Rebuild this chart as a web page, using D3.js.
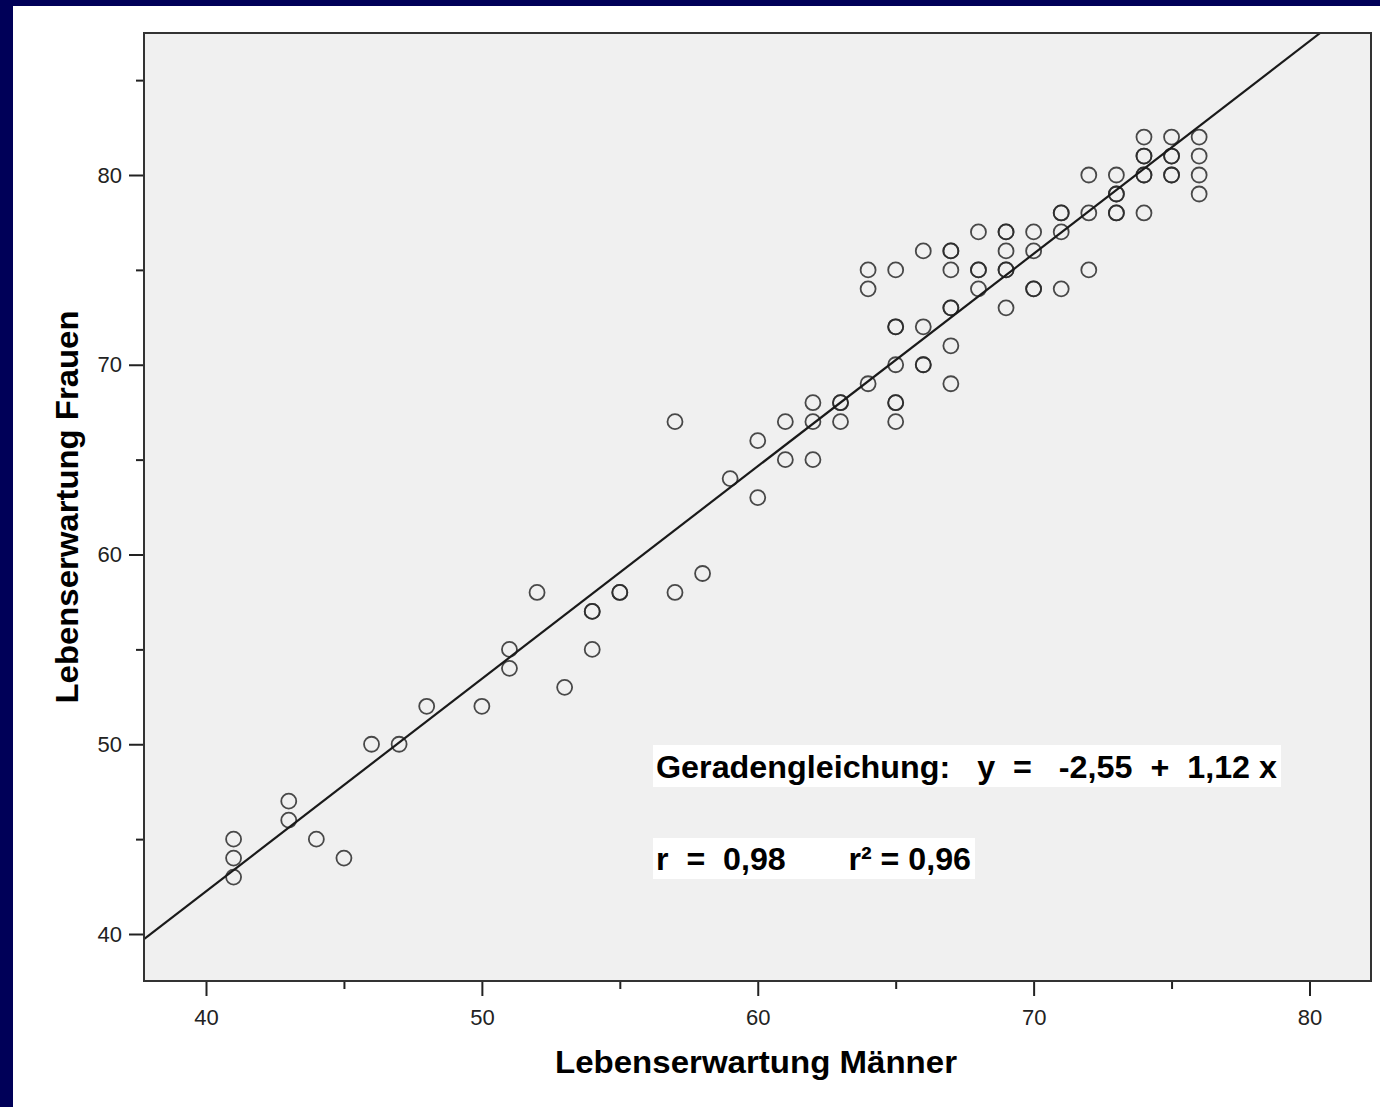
<!DOCTYPE html>
<html>
<head>
<meta charset="utf-8">
<script src="https://cdn.jsdelivr.net/npm/d3@7"></script>
<style>
  body { margin: 0; background: #000058; }
  svg { display: block; }
</style>
</head>
<body>
<div id="chart"></div>
<script>
// Lebenserwartung Männer (x) vs. Frauen (y)
const men = [41, 41, 41, 43, 43, 44, 45, 46, 47, 48, 50, 51, 51, 52, 53, 54, 54, 54, 55, 55,
  57, 57, 58, 59, 60, 60, 61, 61, 62, 62, 62, 63, 63, 63,
  64, 64, 64, 65, 65, 65, 65, 65, 65, 65, 66, 66, 66, 66,
  67, 67, 67, 67, 67, 67, 67, 68, 68, 68, 68, 69, 69, 69, 69, 69, 69,
  70, 70, 70, 70, 71, 71, 71, 71, 72, 72, 72, 73, 73, 73, 73, 73,
  74, 74, 74, 74, 74, 74, 75, 75, 75, 75, 75, 76, 76, 76, 76];
const women = [45, 44, 43, 47, 46, 45, 44, 50, 50, 52, 52, 55, 54, 58, 53, 57, 57, 55, 58, 58,
  67, 58, 59, 64, 66, 63, 67, 65, 68, 67, 65, 68, 68, 67,
  75, 74, 69, 75, 72, 72, 70, 68, 68, 67, 76, 72, 70, 70,
  76, 76, 75, 73, 73, 71, 69, 77, 75, 75, 74, 77, 77, 76, 75, 75, 73,
  77, 76, 74, 74, 78, 78, 77, 74, 80, 78, 75, 80, 79, 79, 78, 78,
  82, 81, 81, 80, 80, 78, 82, 81, 81, 80, 80, 82, 81, 80, 79];

const xTicks = [40, 50, 60, 70, 80];
const xMinor = [45, 55, 65, 75];
const yTicks = [40, 50, 60, 70, 80];
const yMinor = [45, 55, 65, 75, 85];

// regression line y = a + b x
const intercept = -2.55;
const slope = 1.12;
const eqText = "Geradengleichung:   y  =   -2,55  +  1,12 x";
const rText = "r  =  0,98       r\u00B2 = 0,96";

const W = 1380, H = 1107;
const plot = { left: 144, top: 33, right: 1371, bottom: 981 };

const svg = d3.select("#chart").append("svg")
    .attr("width", W)
    .attr("height", H);

// navy frame + white panel
svg.append("rect").attr("width", W).attr("height", H).attr("fill", "#000058");
svg.append("rect").attr("x", 13).attr("y", 6).attr("width", W - 13).attr("height", H - 6).attr("fill", "#ffffff");

// scales: 40 -> 206, 80 -> 1309.5 ; 80 -> 175, 40 -> 934
const pxX = (1309.5 - 206) / 40;
const pxY = (934 - 175) / 40;
const x = d3.scaleLinear()
    .domain([40 - (206 - plot.left) / pxX, 80 + (plot.right - 1309.5) / pxX])
    .range([plot.left, plot.right]);
const y = d3.scaleLinear()
    .domain([40 - (plot.bottom - 934) / pxY, 80 + (175 - plot.top) / pxY])
    .range([plot.bottom, plot.top]);

// plot background
svg.append("rect")
    .attr("x", plot.left).attr("y", plot.top)
    .attr("width", plot.right - plot.left).attr("height", plot.bottom - plot.top)
    .attr("fill", "#f0f0f0");

svg.append("clipPath").attr("id", "clip")
  .append("rect")
    .attr("x", plot.left).attr("y", plot.top)
    .attr("width", plot.right - plot.left).attr("height", plot.bottom - plot.top);

const g = svg.append("g").attr("clip-path", "url(#clip)");

// points
const pts = men.map((m, i) => ({ m: m, f: women[i] }));
g.selectAll("circle")
    .data(pts)
    .enter()
    .append("circle")
    .attr("cx", d => x(d.m))
    .attr("cy", d => y(d.f))
    .attr("r", 7.5)
    .attr("fill", "none")
    .attr("stroke", "#2a2a2a")
    .attr("stroke-opacity", 0.85)
    .attr("stroke-width", 1.8);

// fit line
const x0 = x.domain()[0];
const x1 = (y.domain()[1] - intercept) / slope;
g.append("line")
    .attr("x1", x(x0)).attr("y1", y(intercept + slope * x0))
    .attr("x2", x(x1)).attr("y2", y(intercept + slope * x1))
    .attr("stroke", "#1a1a1a")
    .attr("stroke-width", 2.2);

// axes
const tickFont = "'Liberation Sans', Arial, sans-serif";
const xAxis = svg.append("g")
    .attr("transform", `translate(0,${plot.bottom})`)
    .call(d3.axisBottom(x).tickValues(xTicks).tickSize(15).tickPadding(13));
const xMinorAxis = svg.append("g")
    .attr("transform", `translate(0,${plot.bottom})`)
    .call(d3.axisBottom(x).tickValues(xMinor).tickSize(8).tickFormat(""));
const yAxis = svg.append("g")
    .attr("transform", `translate(${plot.left},0)`)
    .call(d3.axisLeft(y).tickValues(yTicks).tickSize(15).tickPadding(7));
const yMinorAxis = svg.append("g")
    .attr("transform", `translate(${plot.left},0)`)
    .call(d3.axisLeft(y).tickValues(yMinor).tickSize(8).tickFormat(""));

[xAxis, xMinorAxis, yAxis, yMinorAxis].forEach(a => {
    a.select(".domain").remove();
    a.selectAll(".tick line").attr("stroke", "#222").attr("stroke-width", 2);
    a.selectAll("text")
        .style("font-family", tickFont)
        .style("font-size", "22px")
        .attr("fill", "#222");
});

// frame
svg.append("rect")
    .attr("x", plot.left).attr("y", plot.top)
    .attr("width", plot.right - plot.left).attr("height", plot.bottom - plot.top)
    .attr("fill", "none")
    .attr("stroke", "#333")
    .attr("stroke-width", 2);

// axis titles
svg.append("text")
    .attr("x", 756)
    .attr("y", 1073)
    .attr("text-anchor", "middle")
    .attr("textLength", 402)
    .attr("lengthAdjust", "spacingAndGlyphs")
    .style("font-family", tickFont)
    .style("font-weight", "bold")
    .style("font-size", "31px")
    .text("Lebenserwartung Männer");

svg.append("text")
    .attr("transform", "translate(78,507) rotate(-90)")
    .attr("text-anchor", "middle")
    .attr("textLength", 393)
    .attr("lengthAdjust", "spacingAndGlyphs")
    .style("font-family", tickFont)
    .style("font-weight", "bold")
    .style("font-size", "31px")
    .text("Lebenserwartung Frauen");

// annotation boxes
svg.append("rect").attr("x", 653).attr("y", 745).attr("width", 628).attr("height", 42).attr("fill", "#fff");
svg.append("text")
    .attr("x", 656).attr("y", 778)
    .attr("textLength", 621)
    .attr("lengthAdjust", "spacingAndGlyphs")
    .style("white-space", "pre")
    .style("font-family", tickFont)
    .style("font-weight", "bold")
    .style("font-size", "32px")
    .text(eqText);

svg.append("rect").attr("x", 653).attr("y", 838).attr("width", 322).attr("height", 41).attr("fill", "#fff");
svg.append("text")
    .attr("x", 656).attr("y", 870)
    .attr("textLength", 315)
    .attr("lengthAdjust", "spacingAndGlyphs")
    .style("white-space", "pre")
    .style("font-family", tickFont)
    .style("font-weight", "bold")
    .style("font-size", "32px")
    .text(rText);
</script>
</body>
</html>
